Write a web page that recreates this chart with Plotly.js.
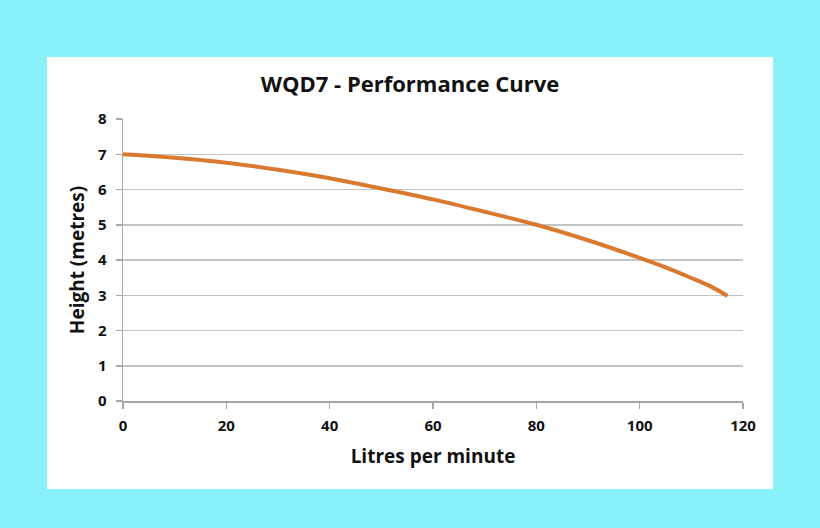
<!DOCTYPE html>
<html><head><meta charset="utf-8">
<script src="https://cdn.plot.ly/plotly-3.0.1.min.js"></script>
<style>
html,body{margin:0;padding:0;background:#88F1FA;width:820px;height:528px;overflow:hidden;}
#panel{position:absolute;left:47px;top:57px;width:726px;height:432px;background:#fff;}
#chart{width:726px;height:432px;}
</style></head><body>
<div id="panel"><div id="chart"></div></div>
<script>
const flow = [0, 10, 20, 30, 40, 50, 60, 70, 80, 90, 100, 105, 110, 114, 117];
const height = [7.0, 6.9, 6.76, 6.56, 6.32, 6.03, 5.72, 5.37, 5.0, 4.56, 4.06, 3.79, 3.49, 3.23, 2.98];
const xTicks = [0, 20, 40, 60, 80, 100, 120];
const yTicks = [0, 1, 2, 3, 4, 5, 6, 7, 8];
const F = '"Open Sans", "Liberation Sans", sans-serif';
Plotly.newPlot('chart', [{
  x: flow, y: height, type: 'scatter', mode: 'lines',
  line: {color: '#D97A30', width: 4, shape: 'spline', smoothing: 0.8},
  hoverinfo: 'skip'
}], {
  width: 726, height: 432,
  margin: {l: 76, r: 30, t: 62, b: 88},
  paper_bgcolor: '#ffffff', plot_bgcolor: '#ffffff',
  showlegend: false,
  title: {text: '<b>WQD7 - Performance Curve</b>', x: 0.5, xanchor: 'center', y: 1 - 27/432, yref: 'container', yanchor: 'middle',
    font: {family: F, size: 22, color: '#111'}},
  xaxis: {
    range: [0, 120], tickvals: xTicks, ticktext: xTicks.map(v => '<b>' + v + '</b>'),
    showgrid: false, zeroline: false, showline: true, linecolor: '#a6a6a6', linewidth: 1.5,
    ticks: 'outside', ticklen: 6, tickcolor: '#a6a6a6', tickwidth: 1.5,
    ticklabelstandoff: 4,
    tickfont: {family: F, size: 15, color: '#111'},
    title: {text: '<b>Litres per minute</b>', standoff: 16, font: {family: F, size: 19, color: '#111'}}
  },
  yaxis: {
    range: [0, 8], tickvals: yTicks, ticktext: yTicks.map(v => '<b>' + v + '</b>'),
    showgrid: true, gridcolor: '#c4c4c4', gridwidth: 1.5, zeroline: false,
    showline: true, linecolor: '#a6a6a6', linewidth: 1.5,
    ticks: 'outside', ticklen: 6, tickcolor: '#a6a6a6', tickwidth: 1.5,
    ticklabelstandoff: 6,
    tickfont: {family: F, size: 15, color: '#111'},
    title: {text: '<b>Height (metres)</b>', standoff: 8, font: {family: F, size: 19, color: '#111'}}
  }
}, {staticPlot: true});
</script>
</body></html>
